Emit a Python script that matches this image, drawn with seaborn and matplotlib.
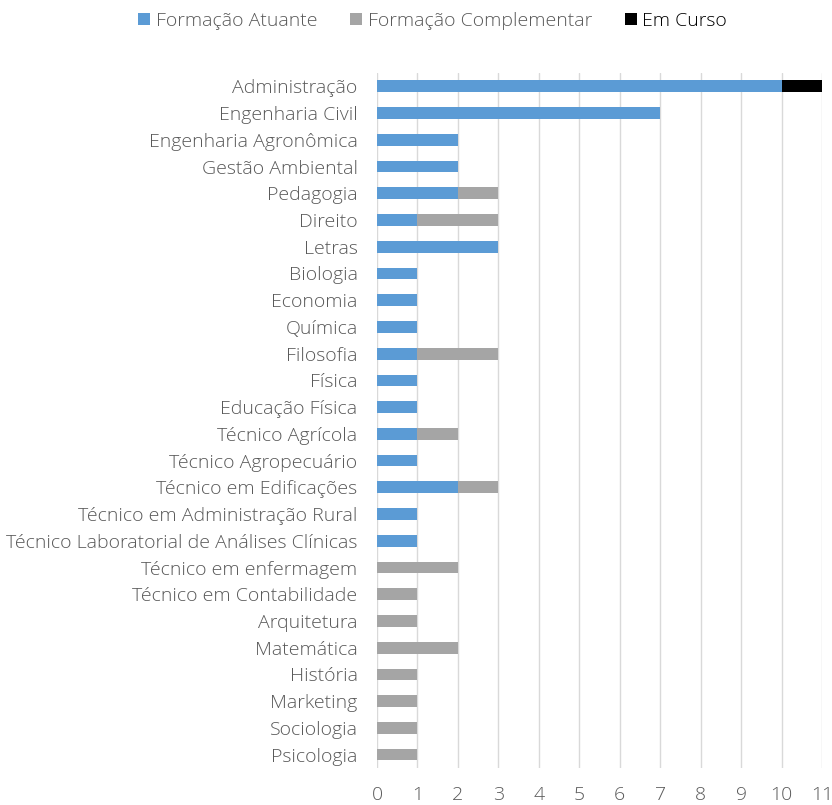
import matplotlib
matplotlib.use("Agg")
import matplotlib.pyplot as plt
import seaborn as sns
import pandas as pd
import numpy as np
from matplotlib.patches import Patch

categories = ["Administração", "Engenharia Civil", "Engenharia Agronômica", "Gestão Ambiental",
              "Pedagogia", "Direito", "Letras", "Biologia", "Economia", "Química", "Filosofia",
              "Física", "Educação Física", "Técnico Agrícola", "Técnico Agropecuário",
              "Técnico em Edificações", "Técnico em Administração Rural",
              "Técnico Laboratorial de Análises Clínicas", "Técnico em enfermagem",
              "Técnico em Contabilidade", "Arquitetura", "Matemática", "História",
              "Marketing", "Sociologia", "Psicologia"]
atuante = [10, 7, 2, 2, 2, 1, 3, 1, 1, 1, 1, 1, 1, 1, 1, 2, 1, 1, 0, 0, 0, 0, 0, 0, 0, 0]
complementar = [0, 0, 0, 0, 1, 2, 0, 0, 0, 0, 2, 0, 0, 1, 0, 1, 0, 0, 2, 1, 1, 2, 1, 1, 1, 1]
em_curso = [1, 0, 0, 0, 0, 0, 0, 0, 0, 0, 0, 0, 0, 0, 0, 0, 0, 0, 0, 0, 0, 0, 0, 0, 0, 0]
series_names = ["Formação Atuante", "Formação Complementar", "Em Curso"]
colors = ["#5B9BD5", "#A5A5A5", "#000000"]
xticks = list(range(0, 12))

df = pd.DataFrame({"cat": categories, "a": atuante, "c": complementar, "e": em_curso})
df["ac"] = df["a"] + df["c"]
df["ace"] = df["ac"] + df["e"]

sns.set_theme(style="white")
plt.rcParams["font.family"] = ["Open Sans", "DejaVu Sans"]
plt.rcParams["font.weight"] = 300
txt = "#595959"
fs = 14

fig = plt.figure(figsize=(8.32, 8.05), dpi=100)
ax = fig.add_axes([0.4531, 0.046, 0.988 - 0.4531, 0.9093 - 0.046])

w = 0.44
sns.barplot(data=df, y="cat", x="ace", orient="h", color=colors[2], width=w, ax=ax,
            order=categories, saturation=1, linewidth=0)
sns.barplot(data=df, y="cat", x="ac", orient="h", color=colors[1], width=w, ax=ax,
            order=categories, saturation=1, linewidth=0)
sns.barplot(data=df, y="cat", x="a", orient="h", color=colors[0], width=w, ax=ax,
            order=categories, saturation=1, linewidth=0)

ax.set_xlim(0, 11)
ax.set_ylim(len(categories) - 0.5, -0.5)
ax.set_xticks(xticks)
ax.set_xlabel("")
ax.set_ylabel("")
ax.grid(axis="x", color="#D9D9D9", linewidth=1)
ax.set_axisbelow(True)
for s in ax.spines.values():
    s.set_visible(False)
ax.tick_params(axis="both", length=0, colors=txt, labelsize=fs)
ax.tick_params(axis="x", pad=13)
ax.tick_params(axis="y", pad=14)

handles = [Patch(facecolor=c, edgecolor="none") for c in colors]
leg = fig.legend(handles, series_names, loc="center", bbox_to_anchor=(0.52, 0.974), ncol=3,
                 frameon=False, fontsize=fs, handlelength=0.6, handleheight=0.6,
                 handletextpad=0.3, columnspacing=1.7)
for t, c in zip(leg.get_texts(), [txt, txt, "#000000"]):
    t.set_color(c)

fig.savefig("out.png", dpi=100)
